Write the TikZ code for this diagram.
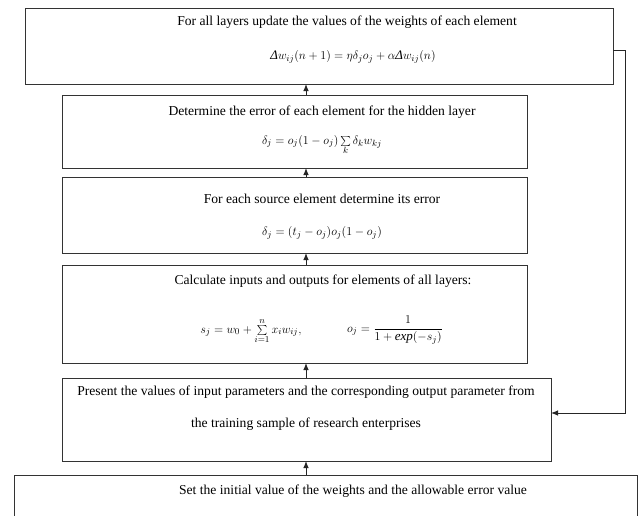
\documentclass[tikz,border=0pt]{standalone}
\usepackage{fontspec}
\setmainfont{Liberation Serif}
\usetikzlibrary{arrows.meta,calc}
\newcommand{\Dlt}{\textit{Δ}}
\begin{document}
\begin{tikzpicture}[x=1pt,y=-1pt,
  box/.style={draw=black!80,line width=1pt,fill=white,inner sep=0pt,outer sep=0pt,anchor=north west},
  txt/.style={inner sep=0pt,font=\fontsize{13.6}{16}\selectfont},
  frm/.style={inner sep=0pt,font=\fontsize{13}{15}\selectfont},
  arr/.style={draw=black!85,line width=0.9pt,-{Latex[length=7pt,width=5.5pt]}}]
\clip (0,0) rectangle (642,515);
\fill[white] (0,0) rectangle (642,515);
% boxes
\node[box,minimum width=588pt,minimum height=76pt] (b1) at (25,8) {};
\node[box,minimum width=465pt,minimum height=73pt] (b2) at (62,95) {};
\node[box,minimum width=465pt,minimum height=76pt] (b3) at (62,177) {};
\node[box,minimum width=465pt,minimum height=98pt] (b4) at (62,265) {};
\node[box,minimum width=489pt,minimum height=83pt] (b5) at (62,378) {};
\node[box,minimum width=623pt,minimum height=70pt] (b6) at (14,475) {};
% texts
\node[txt] (t1) at (347,22) {For all layers update the values of the weights of each element};
\node[frm] (f1) at (353,57) {$\Dlt w_{ij}(n+1)=\eta\delta_j o_j+\alpha\Dlt w_{ij}(n)$};
\node[txt] (t2) at (322,112) {Determine the error of each element for the hidden layer};
\node[frm] (f2) at (322,145) {$\delta_j=o_j(1-o_j)\sum\limits_k\delta_k w_{kj}$};
\node[txt] (t3) at (322,199) {For each source element determine its error};
\node[frm] (f3) at (322,233) {$\delta_j=(t_j-o_j)o_j(1-o_j)$};
\node[txt] (t4) at (323,281) {Calculate inputs and outputs for elements of all layers:};
\node[frm] (f4a) at (251,331) {$s_j=w_0+\sum\limits_{i=1}^{n}x_i w_{ij},$};
\node[frm] (f4b) at (395,330) {$\displaystyle o_j=\frac{1}{1+\mathit{exp}(-s_j)}$};
\node[txt] (t5a) at (306,392) {Present the values of input parameters and the corresponding output parameter from};
\node[txt] (t5b) at (306,424) {the training sample of research enterprises};
\node[txt] (t6) at (353,491) {Set the initial value of the weights and the allowable error value};
% vertical arrows
\coordinate (ax) at (306,0);
\draw[arr] (b6.north -| ax) -- (b5.south -| ax);
\draw[arr] (b5.north -| ax) -- (b4.south -| ax);
\draw[arr] (b4.north -| ax) -- (b3.south -| ax);
\draw[arr] (b3.north -| ax) -- (b2.south -| ax);
\draw[arr] (b2.north -| ax) -- (b1.south -| ax);
% feedback
\coordinate (fa) at (625,50);
\coordinate (fb) at (625,413);
\draw[arr] (b1.east |- fa) -- (fa) -- (fb) -- (b5.east |- fb);
\end{tikzpicture}
\end{document}
